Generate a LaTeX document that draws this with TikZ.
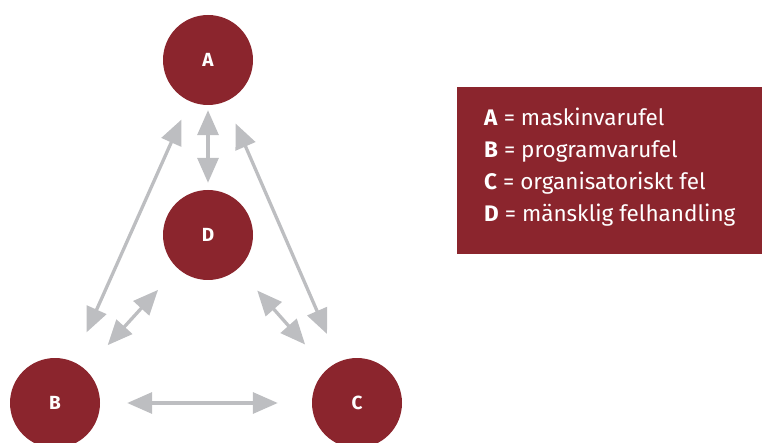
\documentclass[tikz,border=0pt]{standalone}
\usepackage{fontspec}
\setmainfont{Fira Sans}
\usetikzlibrary{arrows.meta}
\definecolor{wine}{HTML}{8B252D}
\definecolor{linkgray}{HTML}{BDBEC1}
\tikzset{
  errnode/.style={circle, fill=wine, minimum size=90pt, inner sep=0pt,
    text=white, font=\fontsize{19}{20}\selectfont\bfseries},
  link/.style={draw=linkgray, line width=3.3pt,
    {Triangle[length=25pt,width=21pt]}-{Triangle[length=25pt,width=21pt]}},
  legendline/.style={anchor=west, text=white, text height=16pt, text depth=5pt,
    inner sep=0pt, font=\fontsize{22.5}{24}\selectfont}
}
\begin{document}
\begin{tikzpicture}[x=1pt, y=-1pt]
\useasboundingbox (0,0) rectangle (762,443);
% error sources
\node[errnode] (A) at (208,60) {A};
\node[errnode] (D) at (208,235) {D};
\node[errnode] (B) at (55,403) {B};
\node[errnode] (C) at (357,403) {C};
% relations between sources
\draw[link, shorten <=5pt, shorten >=7pt] (A) -- (D);
\draw[link, shorten <=20pt, shorten >=32pt] (A) -- (B);
\draw[link, shorten <=24pt, shorten >=30pt] (A) -- (C);
\draw[link, shorten <=29pt, shorten >=33pt] (D) -- (B);
\draw[link, shorten <=29pt, shorten >=33pt] (D) -- (C);
\draw[link, shorten <=27pt, shorten >=34pt] (B) -- (C);
% legend
\node[fill=wine, minimum width=305pt, minimum height=167pt, inner sep=0pt, anchor=north west] (legend) at (457,87) {};
\node[legendline] (l1) at (484,120) {\textbf{A} = maskinvarufel};
\node[legendline] (l2) at (484,152) {\textbf{B} = programvarufel};
\node[legendline] (l3) at (484,184) {\textbf{C} = organisatoriskt fel};
\node[legendline] (l4) at (484,216) {\textbf{D} = mänsklig felhandling};
\end{tikzpicture}
\end{document}
